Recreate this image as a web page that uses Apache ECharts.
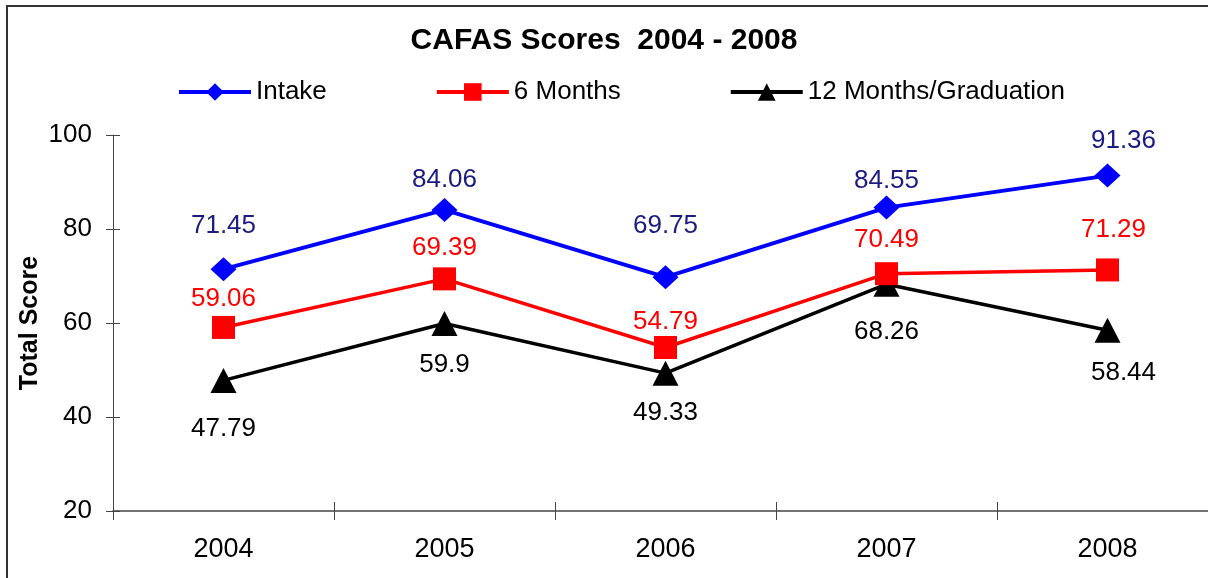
<!DOCTYPE html>
<html>
<head>
<meta charset="utf-8">
<title>CAFAS Scores</title>
<script src="https://cdn.jsdelivr.net/npm/echarts@6/dist/echarts.min.js"></script>
<style>
  html, body { margin: 0; padding: 0; background: #fff; }
  #chart { width: 1208px; height: 578px; }
</style>
</head>
<body>
<div id="chart"></div>
<script>
// chart data
const years = ['2004', '2005', '2006', '2007', '2008']
const intake = [71.45, 84.06, 69.75, 84.55, 91.36]
const sixMonths = [59.06, 69.39, 54.79, 70.49, 71.29]
const twelveMonths = [47.79, 59.9, 49.33, 68.26, 58.44]
const yMin = 20
const yMax = 100
const yStep = 20

// where each value label sits relative to its point (hand placed in the original)
const intakeLabelShift = [[0, -43], [0, -30], [0, -51], [0, -27], [16, -35]]
const sixLabelShift = [[0, -29], [0, -31], [0, -26], [0, -34], [6, -40]]
const twelveLabelShift = [[0, 48], [0, 41], [0, 40], [0, 48], [16, 42]]

const font = 'Liberation Sans, Arial, sans-serif'

function withLabels(values, shifts) {
  return values.map((v, i) => ({ value: v, label: { offset: shifts[i] } }))
}

const chart = echarts.init(document.getElementById('chart'))

chart.setOption({
  animation: false,
  textStyle: { fontFamily: font },
  title: {
    text: 'CAFAS Scores  2004 - 2008',
    left: 'center',
    top: 21,
    textStyle: { fontFamily: font, fontSize: 30, fontWeight: 'bold', color: '#000' }
  },
  legend: {
    top: 74,
    left: 172,
    itemWidth: 72,
    itemHeight: 22,
    itemGap: 108,
    lineStyle: { width: 4 },
    textStyle: { fontFamily: font, fontSize: 26, color: '#000' },
    data: ['Intake', '6 Months', '12 Months/Graduation']
  },
  graphic: [{
    type: 'rect',
    shape: { x: 7, y: 6, width: 1400, height: 800 },
    style: { fill: 'none', stroke: '#333', lineWidth: 2 },
    silent: true
  }],
  grid: {
    left: 113,
    right: -10,
    top: 135,
    bottom: 67,
    containLabel: false,
    outerBoundsMode: 'none'
  },
  xAxis: [{
    type: 'category',
    data: years,
    boundaryGap: true,
    axisLine: { lineStyle: { color: '#444', width: 1.5 } },
    axisTick: { show: true, length: 9, interval: 0, lineStyle: { color: '#444' } },
    axisLabel: { fontFamily: font, fontSize: 27, color: '#000', margin: 25 }
  }, {
    // second copy only to draw the inner half of the crossing ticks
    type: 'category',
    data: years,
    position: 'bottom',
    boundaryGap: true,
    axisLine: { show: false },
    axisTick: { show: true, inside: true, length: 9, interval: 0, lineStyle: { color: '#444' } },
    axisLabel: { show: false }
  }],
  yAxis: [{
    type: 'value',
    min: yMin,
    max: yMax,
    interval: yStep,
    name: 'Total Score',
    nameLocation: 'middle',
    nameGap: 70,
    nameMoveOverlap: false,
    nameRotate: 90,
    nameTextStyle: { fontFamily: font, fontSize: 25, fontWeight: 'bold', color: '#000' },
    splitLine: { show: false },
    axisLine: { show: true, lineStyle: { color: '#444' } },
    axisTick: { show: true, length: 7, lineStyle: { color: '#444' } },
    axisLabel: { fontFamily: font, fontSize: 26, color: '#000', margin: 21 }
  }, {
    type: 'value',
    min: yMin,
    max: yMax,
    interval: yStep,
    position: 'left',
    splitLine: { show: false },
    axisLine: { show: false },
    axisTick: { show: true, inside: true, length: 7, lineStyle: { color: '#444' } },
    axisLabel: { show: false }
  }],
  series: [{
    name: 'Intake',
    type: 'line',
    data: withLabels(intake, intakeLabelShift),
    symbol: 'diamond',
    symbolSize: [26, 24],
    color: '#0000ff',
    lineStyle: { width: 4, color: '#0000ff' },
    itemStyle: { color: '#0000ff' },
    label: { show: true, position: 'inside', fontFamily: font, fontSize: 26, color: '#1a1a80' },
    z: 4
  }, {
    name: '6 Months',
    type: 'line',
    data: withLabels(sixMonths, sixLabelShift),
    symbol: 'rect',
    symbolSize: 23,
    color: '#ff0000',
    lineStyle: { width: 3.5, color: '#ff0000' },
    itemStyle: { color: '#ff0000' },
    label: { show: true, position: 'inside', fontFamily: font, fontSize: 26, color: '#ff0000' },
    z: 3
  }, {
    name: '12 Months/Graduation',
    type: 'line',
    data: withLabels(twelveMonths, twelveLabelShift),
    symbol: 'triangle',
    symbolSize: [26, 25],
    color: '#000',
    lineStyle: { width: 3.5, color: '#000' },
    itemStyle: { color: '#000' },
    label: { show: true, position: 'inside', fontFamily: font, fontSize: 26, color: '#000' },
    z: 2
  }]
})
</script>
</body>
</html>
